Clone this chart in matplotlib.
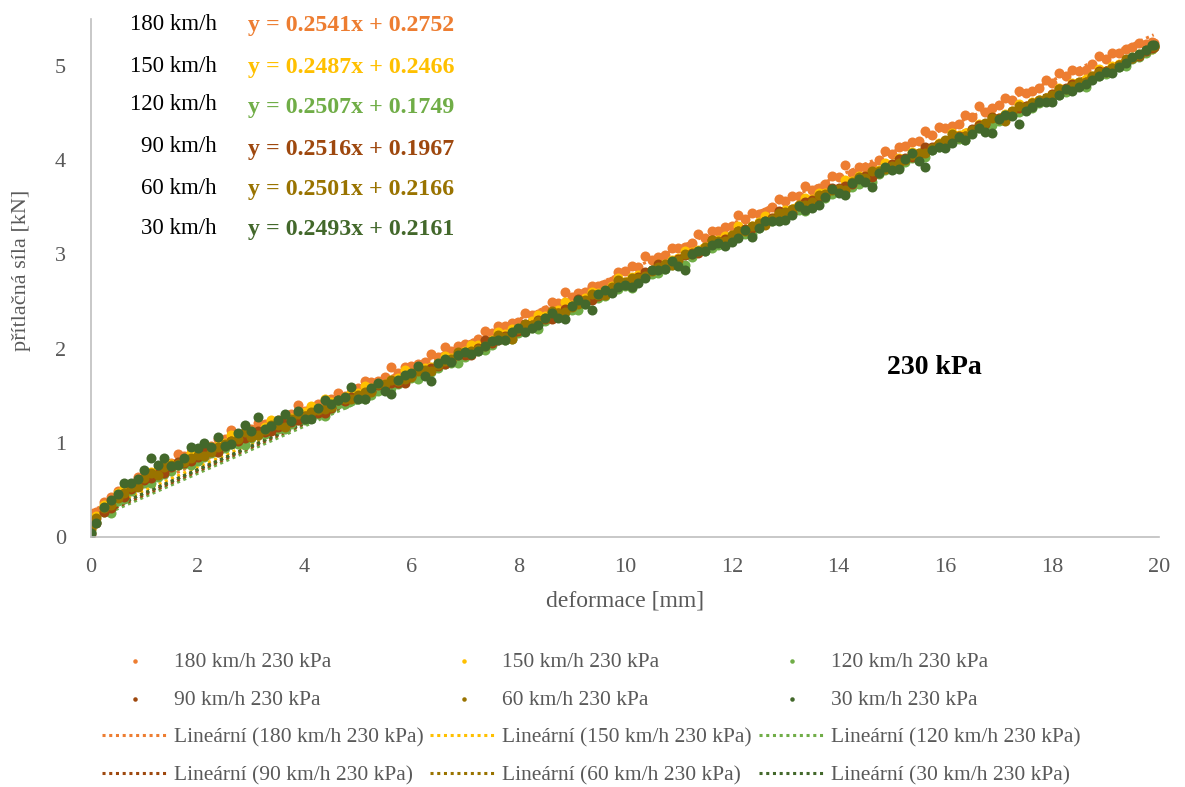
import matplotlib.pyplot as plt

plt.rcParams['font.family'] = ['Liberation Serif', 'DejaVu Serif']

# Měřené řady: deformace [mm] a přítlačná síla [kN] pro jednotlivé rychlosti
RYCHLOSTI = ["180 km/h", "150 km/h", "120 km/h", "90 km/h", "60 km/h", "30 km/h"]
BARVY = ["#ED7D31", "#FFC000", "#70AD47", "#9E480E", "#997300", "#43682B"]
SMERNICE = [0.2541, 0.2487, 0.2507, 0.2516, 0.2501, 0.2493]
POSUNY = [0.2752, 0.2466, 0.1749, 0.1967, 0.2166, 0.2161]
TLAK = "230 kPa"

DEFORMACE = [
    0, 0.1, 0.25, 0.5, 0.75, 1, 1.25, 1.5, 1.75, 2,
    2.25, 2.5, 2.75, 3, 3.25, 3.5, 3.75, 4, 4.25, 4.5,
    4.75, 5, 5.25, 5.5, 5.75, 6, 6.25, 6.5, 6.75, 7,
    7.25, 7.5, 7.75, 8, 8.25, 8.5, 8.75, 9, 9.25, 9.5,
    9.75, 10, 10.25, 10.5, 10.75, 11, 11.25, 11.5, 11.75, 12,
    12.25, 12.5, 12.75, 13, 13.25, 13.5, 13.75, 14, 14.25, 14.5,
    14.75, 15, 15.25, 15.5, 15.75, 16, 16.25, 16.5, 16.75, 17,
    17.25, 17.5, 17.75, 18, 18.25, 18.5, 18.75, 19, 19.25, 19.5,
    19.75, 19.9,
]
# mezilehlé odečty mezi hlavními body
DEFORMACE_MEZI = [
    0.375, 0.625, 0.875, 1.125, 1.375, 1.625, 1.875, 2.125, 2.375, 2.625,
    2.875, 3.125, 3.375, 3.625, 3.875, 4.125, 4.375, 4.625, 4.875, 5.125,
    5.375, 5.625, 5.875, 6.125, 6.375, 6.625, 6.875, 7.125, 7.375, 7.625,
    7.875, 8.125, 8.375, 8.625, 8.875, 9.125, 9.375, 9.625, 9.875, 10.125,
    10.375, 10.625, 10.875, 11.125, 11.375, 11.625, 11.875, 12.125, 12.375, 12.625,
    12.875, 13.125, 13.375, 13.625, 13.875, 14.125, 14.375, 14.625, 14.875, 15.125,
    15.375, 15.625, 15.875, 16.125, 16.375, 16.625, 16.875, 17.125, 17.375, 17.625,
    17.875, 18.125, 18.375, 18.625, 18.875, 19.125, 19.375, 19.625, 19.875,
]

SILA_180 = [
    0.18, 0.27, 0.37, 0.49, 0.56, 0.64, 0.72, 0.79, 0.86, 0.93,
    0.97, 1.04, 1.08, 1.15, 1.20, 1.24, 1.31, 1.34, 1.41, 1.46,
    1.50, 1.58, 1.65, 1.70, 1.74, 1.82, 1.86, 1.91, 1.98, 2.05,
    2.10, 2.17, 2.24, 2.28, 2.36, 2.41, 2.48, 2.55, 2.60, 2.67,
    2.72, 2.82, 2.87, 2.94, 2.99, 3.07, 3.12, 3.18, 3.25, 3.30,
    3.38, 3.43, 3.50, 3.57, 3.62, 3.68, 3.75, 3.82, 3.87, 3.93,
    4.00, 4.07, 4.15, 4.20, 4.27, 4.34, 4.39, 4.46, 4.51, 4.59,
    4.64, 4.71, 4.77, 4.82, 4.90, 4.95, 5.02, 5.07, 5.14, 5.20,
    5.23, 5.24,
]
SILA_180_MEZI = [
    0.42, 0.48, 0.64, 0.68, 0.72, 0.88, 0.89, 0.94, 1.04, 1.14,
    1.10, 1.21, 1.18, 1.29, 1.40, 1.38, 1.41, 1.53, 1.53, 1.66,
    1.66, 1.80, 1.80, 1.84, 1.94, 2.02, 2.03, 2.05, 2.19, 2.24,
    2.27, 2.38, 2.37, 2.49, 2.60, 2.59, 2.67, 2.69, 2.81, 2.88,
    2.98, 2.97, 3.07, 3.08, 3.22, 3.25, 3.29, 3.42, 3.44, 3.45,
    3.59, 3.62, 3.73, 3.71, 3.83, 3.95, 3.93, 3.94, 4.10, 4.14,
    4.19, 4.31, 4.35, 4.36, 4.48, 4.58, 4.56, 4.66, 4.74, 4.74,
    4.85, 4.93, 4.96, 4.96, 5.11, 5.14, 5.18, 5.25, 5.26,
]
SILA_150 = [
    0.10, 0.22, 0.34, 0.47, 0.56, 0.62, 0.71, 0.77, 0.83, 0.88,
    0.96, 1.00, 1.06, 1.10, 1.17, 1.22, 1.26, 1.33, 1.37, 1.43,
    1.49, 1.53, 1.58, 1.62, 1.69, 1.74, 1.79, 1.85, 1.90, 1.98,
    2.04, 2.09, 2.16, 2.22, 2.29, 2.35, 2.41, 2.46, 2.54, 2.59,
    2.66, 2.71, 2.78, 2.83, 2.90, 2.96, 3.03, 3.08, 3.15, 3.21,
    3.27, 3.34, 3.39, 3.47, 3.52, 3.59, 3.65, 3.70, 3.78, 3.83,
    3.90, 3.96, 4.01, 4.08, 4.13, 4.20, 4.27, 4.32, 4.39, 4.45,
    4.52, 4.57, 4.64, 4.70, 4.76, 4.83, 4.89, 4.95, 5.02, 5.10,
    5.16, 5.21,
]
SILA_150_MEZI = [
    0.34, 0.52, 0.58, 0.69, 0.74, 0.76, 0.89, 0.92, 0.97, 1.08,
    1.11, 1.10, 1.24, 1.25, 1.28, 1.39, 1.46, 1.44, 1.53, 1.60,
    1.58, 1.67, 1.77, 1.77, 1.80, 1.92, 1.94, 2.04, 2.06, 2.18,
    2.21, 2.23, 2.36, 2.39, 2.49, 2.48, 2.60, 2.62, 2.75, 2.76,
    2.79, 2.90, 2.94, 3.04, 3.05, 3.14, 3.20, 3.30, 3.30, 3.41,
    3.43, 3.48, 3.60, 3.65, 3.68, 3.79, 3.83, 3.85, 3.97, 4.02,
    4.09, 4.11, 4.18, 4.29, 4.29, 4.38, 4.46, 4.49, 4.60, 4.62,
    4.65, 4.77, 4.82, 4.86, 4.97, 5.00, 5.06, 5.13, 5.18,
]
SILA_120 = [
    0.05, 0.16, 0.27, 0.38, 0.49, 0.57, 0.64, 0.70, 0.78, 0.81,
    0.89, 0.94, 0.99, 1.05, 1.09, 1.15, 1.20, 1.24, 1.31, 1.36,
    1.41, 1.46, 1.51, 1.57, 1.62, 1.69, 1.72, 1.79, 1.85, 1.91,
    1.97, 2.04, 2.09, 2.17, 2.22, 2.29, 2.35, 2.41, 2.47, 2.54,
    2.60, 2.66, 2.72, 2.79, 2.85, 2.90, 2.97, 3.04, 3.10, 3.16,
    3.22, 3.28, 3.35, 3.41, 3.47, 3.53, 3.60, 3.66, 3.72, 3.79,
    3.85, 3.91, 3.98, 4.04, 4.11, 4.17, 4.23, 4.30, 4.36, 4.42,
    4.48, 4.55, 4.61, 4.67, 4.73, 4.79, 4.86, 4.92, 4.99, 5.07,
    5.14, 5.20,
]
SILA_120_MEZI = [
    0.26, 0.40, 0.54, 0.57, 0.67, 0.76, 0.76, 0.85, 0.90, 0.99,
    0.98, 1.08, 1.15, 1.15, 1.24, 1.26, 1.29, 1.41, 1.44, 1.46,
    1.55, 1.58, 1.68, 1.68, 1.75, 1.84, 1.85, 1.95, 1.99, 2.11,
    2.10, 2.20, 2.21, 2.34, 2.39, 2.41, 2.53, 2.56, 2.63, 2.64,
    2.77, 2.80, 2.89, 2.89, 3.03, 3.07, 3.11, 3.20, 3.22, 3.33,
    3.37, 3.44, 3.46, 3.59, 3.64, 3.67, 3.75, 3.77, 3.90, 3.93,
    4.02, 4.04, 4.14, 4.22, 4.22, 4.34, 4.37, 4.48, 4.51, 4.55,
    4.65, 4.69, 4.78, 4.78, 4.89, 4.96, 5.00, 5.10, 5.18,
]
SILA_90 = [
    0.03, 0.15, 0.27, 0.42, 0.51, 0.60, 0.67, 0.74, 0.79, 0.85,
    0.91, 0.97, 1.02, 1.07, 1.12, 1.17, 1.22, 1.28, 1.32, 1.37,
    1.44, 1.48, 1.55, 1.60, 1.64, 1.71, 1.75, 1.82, 1.87, 1.93,
    2.01, 2.06, 2.13, 2.19, 2.25, 2.31, 2.38, 2.45, 2.50, 2.56,
    2.63, 2.69, 2.76, 2.83, 2.88, 2.95, 3.02, 3.07, 3.13, 3.19,
    3.27, 3.32, 3.39, 3.44, 3.51, 3.58, 3.63, 3.71, 3.75, 3.83,
    3.88, 3.96, 4.02, 4.07, 4.14, 4.19, 4.26, 4.33, 4.38, 4.45,
    4.51, 4.58, 4.63, 4.70, 4.77, 4.82, 4.88, 4.95, 5.01, 5.09,
    5.16, 5.20,
]
SILA_90_MEZI = [
    0.31, 0.42, 0.58, 0.63, 0.68, 0.80, 0.81, 0.93, 0.90, 1.02,
    1.05, 1.13, 1.13, 1.24, 1.24, 1.32, 1.32, 1.45, 1.49, 1.49,
    1.61, 1.63, 1.63, 1.78, 1.79, 1.84, 1.93, 1.93, 2.09, 2.09,
    2.14, 2.26, 2.30, 2.31, 2.42, 2.53, 2.52, 2.59, 2.69, 2.68,
    2.81, 2.90, 2.90, 2.99, 3.02, 3.15, 3.16, 3.25, 3.28, 3.36,
    3.46, 3.44, 3.56, 3.61, 3.71, 3.73, 3.81, 3.82, 3.92, 4.01,
    4.03, 4.14, 4.17, 4.25, 4.26, 4.37, 4.46, 4.47, 4.56, 4.61,
    4.63, 4.76, 4.81, 4.83, 4.95, 4.98, 5.06, 5.11, 5.19,
]
SILA_60 = [
    0.08, 0.20, 0.31, 0.41, 0.53, 0.63, 0.66, 0.76, 0.80, 0.87,
    0.90, 0.99, 1.04, 1.06, 1.14, 1.19, 1.25, 1.29, 1.35, 1.38,
    1.46, 1.51, 1.54, 1.62, 1.66, 1.70, 1.77, 1.83, 1.89, 1.96,
    2.00, 2.08, 2.12, 2.21, 2.25, 2.33, 2.38, 2.44, 2.52, 2.57,
    2.65, 2.71, 2.75, 2.82, 2.90, 2.94, 3.01, 3.08, 3.14, 3.21,
    3.25, 3.33, 3.38, 3.45, 3.52, 3.56, 3.64, 3.69, 3.77, 3.81,
    3.89, 3.94, 4.00, 4.08, 4.13, 4.21, 4.25, 4.32, 4.40, 4.44,
    4.52, 4.57, 4.64, 4.69, 4.76, 4.83, 4.89, 4.94, 5.01, 5.09,
    5.17, 5.21,
]
SILA_60_MEZI = [
    0.34, 0.47, 0.53, 0.68, 0.74, 0.77, 0.84, 0.86, 0.96, 1.02,
    1.11, 1.08, 1.19, 1.17, 1.31, 1.33, 1.36, 1.45, 1.46, 1.54,
    1.62, 1.67, 1.68, 1.76, 1.76, 1.87, 1.96, 1.97, 2.03, 2.14,
    2.10, 2.26, 2.29, 2.40, 2.39, 2.47, 2.58, 2.57, 2.73, 2.75,
    2.77, 2.87, 2.89, 3.00, 3.04, 3.15, 3.14, 3.25, 3.30, 3.31,
    3.44, 3.48, 3.53, 3.63, 3.68, 3.68, 3.82, 3.89, 3.91, 3.97,
    4.06, 4.08, 4.17, 4.28, 4.26, 4.35, 4.45, 4.42, 4.58, 4.61,
    4.66, 4.76, 4.79, 4.83, 4.94, 4.98, 5.07, 5.12, 5.21,
]
SILA_30 = [
    0.04, 0.15, 0.32, 0.46, 0.57, 0.71, 0.76, 0.75, 0.84, 0.94,
    0.96, 0.97, 1.10, 1.13, 1.15, 1.24, 1.23, 1.25, 1.37, 1.41,
    1.49, 1.47, 1.58, 1.55, 1.67, 1.74, 1.71, 1.85, 1.86, 1.96,
    1.97, 2.08, 2.09, 2.22, 2.22, 2.33, 2.33, 2.45, 2.47, 2.58,
    2.59, 2.68, 2.70, 2.84, 2.85, 2.88, 3.01, 3.04, 3.12, 3.13,
    3.26, 3.28, 3.36, 3.37, 3.51, 3.49, 3.61, 3.65, 3.76, 3.77,
    3.87, 3.90, 4.01, 3.99, 4.11, 4.13, 4.25, 4.28, 4.30, 4.44,
    4.47, 4.52, 4.62, 4.62, 4.76, 4.78, 4.85, 4.94, 4.99, 5.10,
    5.17, 5.22,
]
SILA_30_MEZI = [
    0.39, 0.57, 0.62, 0.84, 0.84, 0.76, 0.96, 1.00, 1.06, 0.99,
    1.19, 1.27, 1.18, 1.31, 1.34, 1.25, 1.45, 1.45, 1.59, 1.46,
    1.64, 1.52, 1.72, 1.82, 1.66, 1.89, 1.93, 1.94, 2.03, 2.09,
    2.18, 2.18, 2.25, 2.38, 2.31, 2.52, 2.41, 2.62, 2.65, 2.65,
    2.75, 2.83, 2.93, 2.83, 3.04, 3.10, 3.09, 3.17, 3.19, 3.35,
    3.36, 3.42, 3.47, 3.52, 3.69, 3.63, 3.80, 3.72, 3.93, 3.91,
    4.08, 3.93, 4.14, 4.18, 4.22, 4.34, 4.29, 4.48, 4.39, 4.57,
    4.62, 4.69, 4.74, 4.81, 4.90, 4.93, 5.03, 5.13, 5.22,
]
SILY = [SILA_180, SILA_150, SILA_120, SILA_90, SILA_60, SILA_30]
SILY_MEZI = [SILA_180_MEZI, SILA_150_MEZI, SILA_120_MEZI,
             SILA_90_MEZI, SILA_60_MEZI, SILA_30_MEZI]

SEDA = "#595959"

fig = plt.figure(figsize=(11.85, 7.87), dpi=100)
ax = fig.add_axes([91 / 1185, 1 - 537 / 787, 1068 / 1185, 518 / 787])

body = []
for rych, barva, sila, mezi in zip(RYCHLOSTI, BARVY, SILY, SILY_MEZI):
    sc = ax.scatter(DEFORMACE + DEFORMACE_MEZI, sila + mezi, s=52, color=barva,
                    linewidths=0, label=f"{rych} {TLAK}", zorder=2)
    body.append(sc)

# lineární trendy přes rozsah měřené deformace (pod body)
x_trend = [min(DEFORMACE), max(DEFORMACE)]
trendy = []
for rych, barva, a, b in zip(RYCHLOSTI, BARVY, SMERNICE, POSUNY):
    ln, = ax.plot(x_trend, [a * x + b for x in x_trend], color=barva,
                  lw=2.2, linestyle=(0, (1, 1.2)), label=f"Lineární ({rych} {TLAK})",
                  zorder=1.5)
    trendy.append(ln)

ax.set_xlim(0, 20)
ax.set_ylim(0, 5.5)
ax.set_xticks(range(0, 21, 2))
ax.set_yticks(range(0, 6))
ax.tick_params(length=0, labelsize=16, labelcolor=SEDA)
ax.tick_params(axis="x", pad=15)
ax.tick_params(axis="y", pad=18)
for side in ("top", "right"):
    ax.spines[side].set_visible(False)
for side in ("left", "bottom"):
    ax.spines[side].set_color("#BFBFBF")
    ax.spines[side].set_linewidth(1.2)

fig.text(22 / 1185, 1 - 270 / 787, "přítlačná síla [kN]", rotation=90,
         ha="center", va="center", fontsize=16, color=SEDA)
fig.text(625 / 1185, 1 - 601 / 787, "deformace [mm]", ha="center",
         va="center", fontsize=17, color=SEDA)

# rovnice regresních přímek
radky = [24, 66, 105, 147, 188, 228]
for rych, barva, a, b, yp in zip(RYCHLOSTI, BARVY, SMERNICE, POSUNY, radky):
    fig.text(217 / 1185, 1 - yp / 787, rych, ha="right", va="center",
             fontsize=16.5, color="black")
    fig.text(248 / 1185, 1 - (yp + 2) / 787, f"y = {a:.4f}x + {b:.4f}",
             ha="left", va="center", fontsize=17.2, fontweight="bold", color=barva)

fig.text(934 / 1185, 1 - 368 / 787, TLAK, ha="center", va="center",
         fontsize=20, fontweight="bold", color="black")

# legenda po řádcích: body 180/150/120, 90/60/30, pak trendy
radkove = body + trendy
sloupcove = [radkove[i] for i in [0, 3, 6, 9, 1, 4, 7, 10, 2, 5, 8, 11]]
leg = fig.legend(sloupcove, [h.get_label() for h in sloupcove], ncol=3,
                 loc="upper left", bbox_to_anchor=(102 / 1185, 1 - 652 / 787),
                 frameon=False, fontsize=15.5, handlelength=3.1,
                 handletextpad=0.25, columnspacing=0.3, labelspacing=0.82,
                 scatterpoints=1, markerscale=0.45, borderpad=0, borderaxespad=0)
for t in leg.get_texts():
    t.set_color(SEDA)

fig.savefig("out.png", dpi=100)
